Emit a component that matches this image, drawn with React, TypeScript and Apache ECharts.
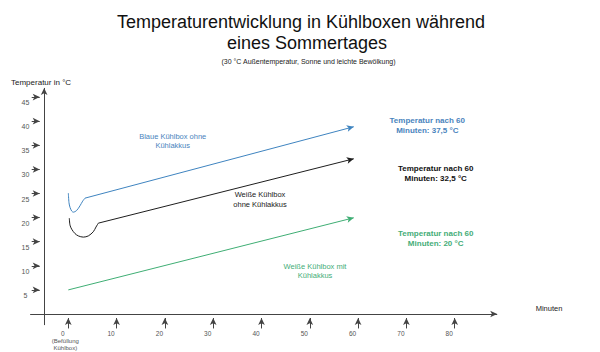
import React, { useEffect, useRef } from "react";
import * as echarts from "echarts";

const FONT = '"Liberation Sans", Arial, Helvetica, sans-serif';

// tick labels
const xTickValues = [0, 10, 20, 30, 40, 50, 60, 70, 80];
const yTickValues = [5, 10, 15, 20, 25, 30, 35, 40, 45];

// curves: [minutes, °C]
const blueCurve: [number, number][] = [
  [0.01, 25.08], [0.14, 23.11], [0.35, 22.14], [0.7, 21.36], [1.04, 21.13],
  [1.73, 21.48], [2.42, 22.45], [2.98, 23.42], [3.46, 24.04],
];
const blueEnd: [number, number] = [59.1, 38.85];
const blackCurve: [number, number][] = [
  [0.21, 19.89], [0.35, 18.44], [0.7, 17.6], [1.39, 16.68], [2.08, 16.2],
  [3.11, 15.95], [4.15, 16.2], [5.18, 17.07], [5.73, 18.04], [6.22, 18.85],
];
const blackEnd: [number, number] = [59.1, 32.2];
const greenCurve: [number, number][] = [[0, 5.0]];
const greenEnd: [number, number] = [59.1, 19.96];

// axis extents
const xAxisLine: [number, number][] = [[-7.9, 0], [88.8, 0]];
const yAxisLine: [number, number][] = [[-5, -2.3], [-5, 46.9]];

const BLUE = "#3f84c0";
const BLUE_TXT = "#4a84bd";
const BLACK = "#1e1e1e";
const GREEN = "#3fae74";
const GREEN_TXT = "#45ad78";

function txt(text: string, x: number, y: number, size: number, color: string, extra: any = {}) {
  return {
    type: "text",
    x,
    y,
    silent: true,
    style: {
      text,
      fill: color,
      fontSize: size,
      fontFamily: FONT,
      align: extra.align || "center",
      textAlign: extra.align || "center",
      verticalAlign: "middle",
      textVerticalAlign: "middle",
      fontWeight: extra.bold ? "bold" : "normal",
      lineHeight: extra.lineHeight || size * 1.2,
    },
  };
}

function curveSeries(name: string, pts: [number, number][], end: [number, number], color: string) {
  return {
    name,
    type: "line",
    data: pts,
    smooth: 0.3,
    symbol: "none",
    lineStyle: { color, width: 1 },
    z: 3,
    markLine: {
      silent: true,
      symbol: ["none", "arrow"],
      symbolSize: [5, 7],
      label: { show: false },
      lineStyle: { color, width: 1, type: "solid" },
      data: [[{ coord: pts[pts.length - 1] }, { coord: end }]],
    },
  };
}

export default function App() {
  const ref = useRef<HTMLDivElement>(null);
  useEffect(() => {
    if (!ref.current) return;
    const chart = echarts.init(ref.current, undefined, { renderer: "svg" });
    const axisMarks: any[] = [
      [{ coord: xAxisLine[0] }, { coord: xAxisLine[1] }],
      [{ coord: yAxisLine[0] }, { coord: yAxisLine[1] }],
      ...yTickValues.map((v) => [{ coord: [-7.58, v] }, { coord: [-5.92, v] }]),
      ...xTickValues.map((v) => [{ coord: [v, -3.0] }, { coord: [v, -0.83] }]),
    ];
    chart.setOption({
      animation: false,
      backgroundColor: "#ffffff",
      grid: { left: 20, right: 97, top: 73, bottom: 13.9, containLabel: false },
      xAxis: {
        type: "value",
        min: -10,
        max: 90,
        interval: 10,
        axisLine: { show: false, onZero: false },
        axisTick: { show: false },
        splitLine: { show: false },
        axisLabel: {
          margin: -9,
          color: "#555",
          fontFamily: FONT,
          fontSize: 6.5,
          formatter: (v: number) => {
            if (!xTickValues.includes(v)) return "";
            if (v === 0) return "{a|0}\n{b|(Befüllung}\n{b|Kühlbox)}";
            return "{a|" + v + "}";
          },
          rich: {
            a: { fontSize: 6.5, lineHeight: 8, color: "#555", fontFamily: FONT, padding: [0, 11, 0, 0] },
            b: { fontSize: 6, lineHeight: 7.5, color: "#555", fontFamily: FONT, padding: [0, 6, 0, 0] },
          },
        },
      },
      yAxis: {
        type: "value",
        min: -5,
        max: 50,
        interval: 5,
        axisLine: { show: false },
        axisTick: { show: false },
        splitLine: { show: false },
        axisLabel: {
          inside: true,
          align: "center",
          verticalAlign: "top",
          margin: 5.5,
          padding: [2, 0, 0, 0],
          color: "#555",
          fontFamily: FONT,
          fontSize: 7,
          formatter: (v: number) => (yTickValues.includes(v) ? String(v) : ""),
        },
      },
      series: [
        {
          name: "axes",
          type: "line",
          data: [],
          symbol: "none",
          markLine: {
            silent: true,
            symbol: ["none", "arrow"],
            symbolSize: [5, 7],
            label: { show: false },
            lineStyle: { color: "#444", width: 1, type: "solid" },
            data: axisMarks,
          },
        },
        curveSeries("Blaue Kühlbox ohne Kühlakkus", blueCurve, blueEnd, BLUE),
        curveSeries("Weiße Kühlbox ohne Kühlakkus", blackCurve, blackEnd, BLACK),
        curveSeries("Weiße Kühlbox mit Kühlakkus", greenCurve, greenEnd, GREEN),
      ],
      graphic: [
        txt("Temperaturentwicklung in Kühlboxen während", 301, 21.7, 18, "#111"),
        txt("eines Sommertages", 307, 43.3, 18, "#111"),
        txt("(30 °C Außentemperatur, Sonne und leichte Bewölkung)", 308.5, 61.7, 7, "#222"),
        txt("Temperatur in °C", 11, 82, 8, "#222", { align: "left" }),
        txt("Minuten", 549, 308, 7.5, "#222"),
        txt("Blaue Kühlbox ohne\nKühlakkus", 172.7, 141.3, 7.5, BLUE_TXT, { lineHeight: 9.4 }),
        txt("Weiße Kühlbox\nohne Kühlakkus", 260, 199.6, 7.5, "#222", { lineHeight: 9.4 }),
        txt("Weiße Kühlbox mit\nKühlakkus", 315, 271.2, 7.5, GREEN_TXT, { lineHeight: 9.2 }),
        txt("Temperatur nach 60\nMinuten: 37,5 °C", 427.3, 125, 8, BLUE_TXT, { bold: true, lineHeight: 10 }),
        txt("Temperatur nach 60\nMinuten: 32,5 °C", 435.7, 173.3, 8, "#111", { bold: true, lineHeight: 10 }),
        txt("Temperatur nach 60\nMinuten: 20 °C", 435.7, 238.3, 8, GREEN_TXT, { bold: true, lineHeight: 10 }),
      ],
    });
    return () => chart.dispose();
  }, []);
  return (
    <div
      ref={ref}
      style={{ position: "fixed", left: 0, top: 0, width: 600, height: 352, background: "#fff" }}
    />
  );
}
